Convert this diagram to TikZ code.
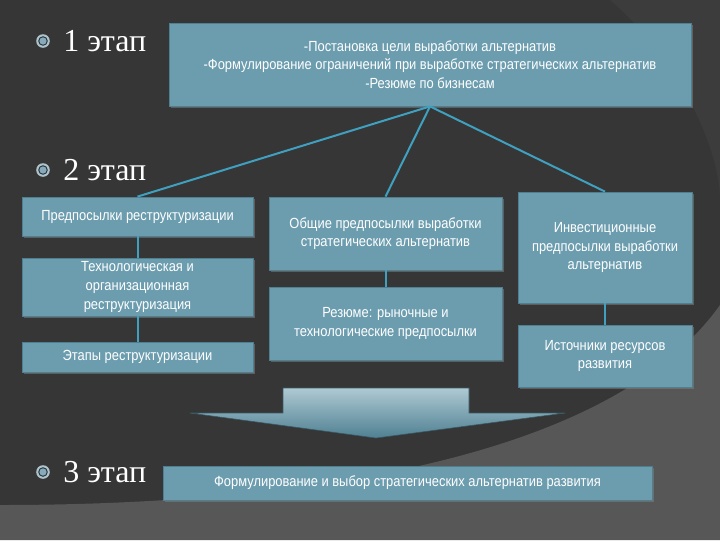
\documentclass[tikz,border=0pt]{standalone}
\usepackage{fontspec}
\setmainfont{Liberation Serif}
\newfontfamily\boxfont[FakeStretch=0.88]{Liberation Sans}
\usetikzlibrary{positioning,shadows}

\definecolor{slidebg}{HTML}{363636}
\definecolor{slideband}{HTML}{3C3C3C}
\definecolor{slidelight}{HTML}{575757}
\definecolor{boxfill}{HTML}{6C9DAF}
\definecolor{boxedge}{HTML}{4F8092}
\definecolor{linkblue}{HTML}{3FA0C0}
\definecolor{markring}{HTML}{AFC3CB}
\definecolor{markgap}{HTML}{2C383D}
\definecolor{markdot}{HTML}{86AABB}

\begin{document}
\begin{tikzpicture}[x=0.75pt, y=-0.75pt]
        \tikzset{stagebox/.style={draw=boxedge, fill=boxfill, line width=0.6pt, align=center,
                text=white, font=\boxfont\fontsize{11pt}{14pt}\selectfont, inner sep=2pt,
                drop shadow={opacity=0.55, shadow xshift=1.2pt, shadow yshift=-1.2pt}}}
        \tikzset{link/.style={linkblue, line width=1.5pt}}
        \tikzset{stagelabel/.style={anchor=west, text=white, font=\fontsize{24pt}{26pt}\selectfont, inner sep=0pt}}
        % background
        \fill[slidebg] (0,0) rectangle (720,540);
        \fill[slideband] (610,0) .. controls (680,60) and (720,150) .. (720,200) -- (720,0) -- cycle;
        \fill[slidelight] (0,505) .. controls (300,505) and (610,460) .. (720,305) -- (720,540) -- (0,540) -- cycle;
        % stage markers
        \foreach \y/\n in {41/1, 170/2, 472/3} {
            \fill[markring] (43,\y) circle (6.8);
            \fill[markgap] (43,\y) circle (4.8);
            \fill[markdot] (43,\y) circle (3.6);
            \node[stagelabel] (stage\n) at (63,\y) {\n\ этап};
        }
        % boxes
        \node[stagebox, minimum width=391.5pt, minimum height=62.25pt] (goals) at (430,64.5)
            {-Постановка цели выработки альтернатив\\-Формулирование ограничений при выработке стратегических альтернатив\\-Резюме по бизнесам};
        \node[stagebox, minimum width=173.25pt, minimum height=29.25pt] (restruct) at (137.5,216.5)
            {Предпосылки реструктуризации};
        \node[stagebox, minimum width=173.25pt, minimum height=43.5pt] (techorg) at (137.5,287)
            {Технологическая и\\организационная\\реструктуризация};
        \node[stagebox, minimum width=173.25pt, minimum height=22.5pt] (phases) at (137.5,357)
            {Этапы реструктуризации};
        \node[stagebox, minimum width=174.75pt, minimum height=54.75pt] (general) at (385.5,233.5)
            {Общие предпосылки выработки\\стратегических альтернатив};
        \node[stagebox, minimum width=174.75pt, minimum height=54.75pt] (summary) at (385.5,323.5)
            {Резюме: рыночные и\\технологические предпосылки};
        \node[stagebox, minimum width=130.5pt, minimum height=83.25pt] (invest) at (605,247.5)
            {Инвестиционные\\предпосылки выработки\\альтернатив};
        \node[stagebox, minimum width=130.5pt, minimum height=46.5pt] (sources) at (605,356)
            {Источники ресурсов\\развития};
        \node[stagebox, minimum width=366.75pt, minimum height=25.5pt] (choice) at (407.5,483)
            {Формулирование и выбор стратегических альтернатив развития};
        % connectors
        \draw[link] (goals.south) -- (restruct.north);
        \draw[link] (goals.south) -- (general.north);
        \draw[link] (goals.south) -- (invest.north);
        \draw[link] (restruct) -- (techorg);
        \draw[link] (techorg) -- (phases);
        \draw[link] (general) -- (summary);
        \draw[link] (invest) -- (sources);
        % big arrow
        \shade[top color=boxfill!55!white, bottom color=boxedge, draw=boxedge!70!black, line width=0.4pt]
            (283,388) -- (469,388) -- (469,413) -- (565,413) -- (376,438) -- (190,413) -- (283,413) -- cycle;
\end{tikzpicture}
\end{document}
